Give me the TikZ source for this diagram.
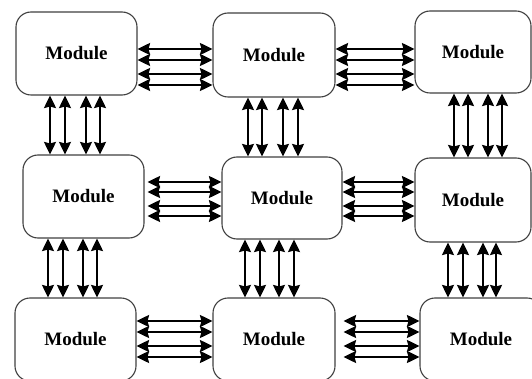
\documentclass[tikz,border=0pt]{standalone}
\usepackage{fontspec}
\setmainfont{Liberation Serif}
\usetikzlibrary{arrows.meta}

\tikzset{
  module/.style={draw=black!75, line width=1.1pt, rounded corners=15pt,
    fill=white, inner sep=0pt, font=\fontsize{19}{22}\selectfont\bfseries},
  headtip/.tip={Stealth[length=12.5pt,width=12pt,inset=1.5pt]},
  bi/.style={line width=2pt, headtip-headtip}
}

\begin{document}
\begin{tikzpicture}[x=1pt,y=1pt]
  \useasboundingbox (0,0) rectangle (532,-379);
  \clip (0,0) rectangle (532,-379);

  % module grid
  \node[module, minimum width=121pt, minimum height=83pt] (A) at (76.5,-53.5) {Module};
  \node[module, minimum width=122pt, minimum height=84pt] (B) at (274,-55) {Module};
  \node[module, minimum width=116pt, minimum height=82pt] (C) at (473,-52) {Module};

  \node[module, minimum width=121pt, minimum height=83pt] (D) at (83.5,-196.5) {Module};
  \node[module, minimum width=120pt, minimum height=82pt] (E) at (282,-198) {Module};
  \node[module, minimum width=116pt, minimum height=84pt] (F) at (473,-200) {Module};

  \node[module, minimum width=121pt, minimum height=83pt] (G) at (75.5,-339.5) {Module};
  \node[module, minimum width=122pt, minimum height=83pt] (H) at (274,-339.5) {Module};
  \node[module, minimum width=122pt, minimum height=83pt] (I) at (481,-339.5) {Module};

  % horizontal links
  \foreach \y in {49,60,74,85} {
    \draw[bi] (A.east |- 0,-\y) -- (B.west |- 0,-\y);
    \draw[bi] (B.east |- 0,-\y) -- (C.west |- 0,-\y);
  }
  \foreach \y in {182,192,206,216} {
    \draw[bi, shorten <=3pt] (D.east |- 0,-\y) -- (E.west |- 0,-\y);
    \draw[bi] (E.east |- 0,-\y) -- (F.west |- 0,-\y);
  }
  \foreach \y in {321,332,346,357} {
    \draw[bi] (G.east |- 0,-\y) -- (H.west |- 0,-\y);
    \draw[bi, shorten <=8pt] (H.east |- 0,-\y) -- (I.west |- 0,-\y);
  }

  % vertical links
  \foreach \x in {50,65,86,100}   \draw[bi] (A.south -| \x,0) -- (D.north -| \x,0);
  \foreach \x in {248,262,283,298} \draw[bi] (B.south -| \x,0) -- (E.north -| \x,0);
  \foreach \x in {454,468,488,502} \draw[bi] (C.south -| \x,0) -- (F.north -| \x,0);
  \foreach \x in {48,63,83,97}    \draw[bi] (D.south -| \x,0) -- (G.north -| \x,0);
  \foreach \x in {245,260,279,294} \draw[bi] (E.south -| \x,0) -- (H.north -| \x,0);
  \foreach \x in {448,463,483,496} \draw[bi] (F.south -| \x,0) -- (I.north -| \x,0);
\end{tikzpicture}
\end{document}
